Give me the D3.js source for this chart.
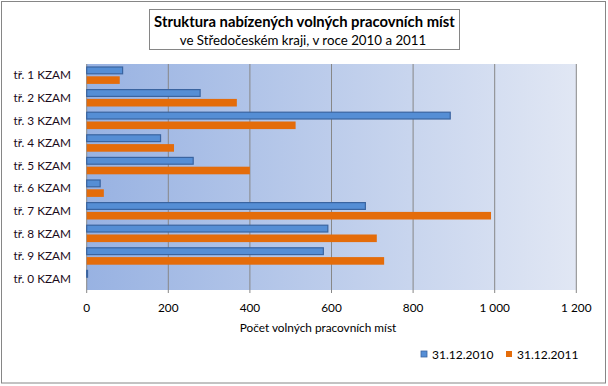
<!DOCTYPE html>
<html><head><meta charset="utf-8">
<script src="https://cdn.jsdelivr.net/npm/d3@7"></script>
<style>body{margin:0;background:#fff}svg{display:block}</style>
</head><body><svg id="c" width="608" height="386"></svg>
<script>
const categories = ["tř. 1 KZAM","tř. 2 KZAM","tř. 3 KZAM","tř. 4 KZAM","tř. 5 KZAM","tř. 6 KZAM","tř. 7 KZAM","tř. 8 KZAM","tř. 9 KZAM","tř. 0 KZAM"];
const series2010 = [88, 278, 891, 181, 261, 33, 683, 591, 580, 2];
const series2011 = [81, 368, 512, 214, 400, 42, 991, 711, 729, 0];
const seriesNames = ["31.12.2010", "31.12.2011"];
const xTicks = [0, 200, 400, 600, 800, 1000, 1200];
const titleLines = ["Struktura nabízených volných pracovních míst", "ve Středočeském kraji, v roce 2010 a 2011"];
const axisTitle = "Počet volných pracovních míst";

const svg = d3.select("#c");
const font = "Lato, 'Open Sans', sans-serif";
const L = 86.7, R = 576.3, T = 64, B = 290;

svg.append("rect").attr("x",1.5).attr("y",1.5).attr("width",604).attr("height",381.5)
  .attr("fill","#fff").attr("stroke","#868686").attr("stroke-width",1);

const defs = svg.append("defs");
const g = defs.append("linearGradient").attr("id","bg").attr("x1","0").attr("x2","1").attr("y1","0").attr("y2","0");
g.append("stop").attr("offset","0").attr("stop-color","#98b2e2");
g.append("stop").attr("offset","1").attr("stop-color","#e1e7f4");

const x = d3.scaleLinear().domain([0,1200]).range([L,R]);
const y = d3.scaleBand().domain(categories).range([T,B]);

svg.append("rect").attr("x",L).attr("y",T).attr("width",R-L).attr("height",B-T).attr("fill","url(#bg)");

// gridlines + ticks
svg.append("g").selectAll("line").data(xTicks).join("line")
  .attr("x1",d=>x(d)).attr("x2",d=>x(d)).attr("y1",T).attr("y2",B+3)
  .attr("stroke","#878787").attr("stroke-width",1);

const bw = y.bandwidth();
svg.append("g").selectAll("rect").data(series2010).join("rect")
  .attr("x",x(0)).attr("y",(d,i)=>y(categories[i])+3)
  .attr("width",d=>Math.max(0,x(d)-x(0))).attr("height",6.8)
  .attr("fill","#558ed5").attr("stroke","#3a64a0").attr("stroke-width",1.2);
svg.append("g").selectAll("rect").data(series2011).join("rect")
  .attr("x",x(0)).attr("y",(d,i)=>y(categories[i])+12.3)
  .attr("width",d=>Math.max(0,x(d)-x(0))).attr("height",7.6)
  .attr("fill","#e46c0a");

svg.append("g").selectAll("text").data(categories).join("text")
  .attr("x",71).attr("y",d=>y(d)+bw/2).attr("dy","0.35em").attr("text-anchor","end")
  .attr("font-family",font).attr("font-size",11.8).attr("fill","#1a0a1a").text(d=>d);

svg.append("g").selectAll("text").data(xTicks).join("text")
  .attr("x",d=>x(d)).attr("y",308).attr("dy","0.35em").attr("text-anchor","middle")
  .attr("font-family",font).attr("font-size",11.8).attr("fill","#000")
  .text(d=>d3.format(",")(d).replace(/,/g," "));

svg.append("text").attr("x",318).attr("y",327.5).attr("dy","0.35em").attr("text-anchor","middle")
  .attr("font-family",font).attr("font-size",11.8).attr("fill","#000").text(axisTitle);

svg.append("rect").attr("x",149.5).attr("y",9.5).attr("width",310).attr("height",40)
  .attr("fill","#fff").attr("stroke","#868686");
svg.append("text").attr("x",304.5).attr("y",21.5).attr("dy","0.35em").attr("text-anchor","middle")
  .attr("font-family",font).attr("font-weight","bold").attr("font-size",14.8).attr("fill","#000").text(titleLines[0]);
svg.append("text").attr("x",303).attr("y",40).attr("dy","0.35em").attr("text-anchor","middle")
  .attr("font-family",font).attr("font-size",13.3).attr("fill","#000").text(titleLines[1]);

const legX = [421, 506], legC = ["#558ed5","#e46c0a"];
seriesNames.forEach((s,i)=>{
  svg.append("rect").attr("x",legX[i]).attr("y",351).attr("width",6).attr("height",6)
    .attr("fill",legC[i]).attr("stroke",i===0?"#3a64a0":"none").attr("stroke-width",0.8);
  svg.append("text").attr("x",legX[i]+11).attr("y",354.5).attr("dy","0.35em")
    .attr("font-family",font).attr("font-size",12).attr("fill","#000").text(s);
});
</script></body></html>
